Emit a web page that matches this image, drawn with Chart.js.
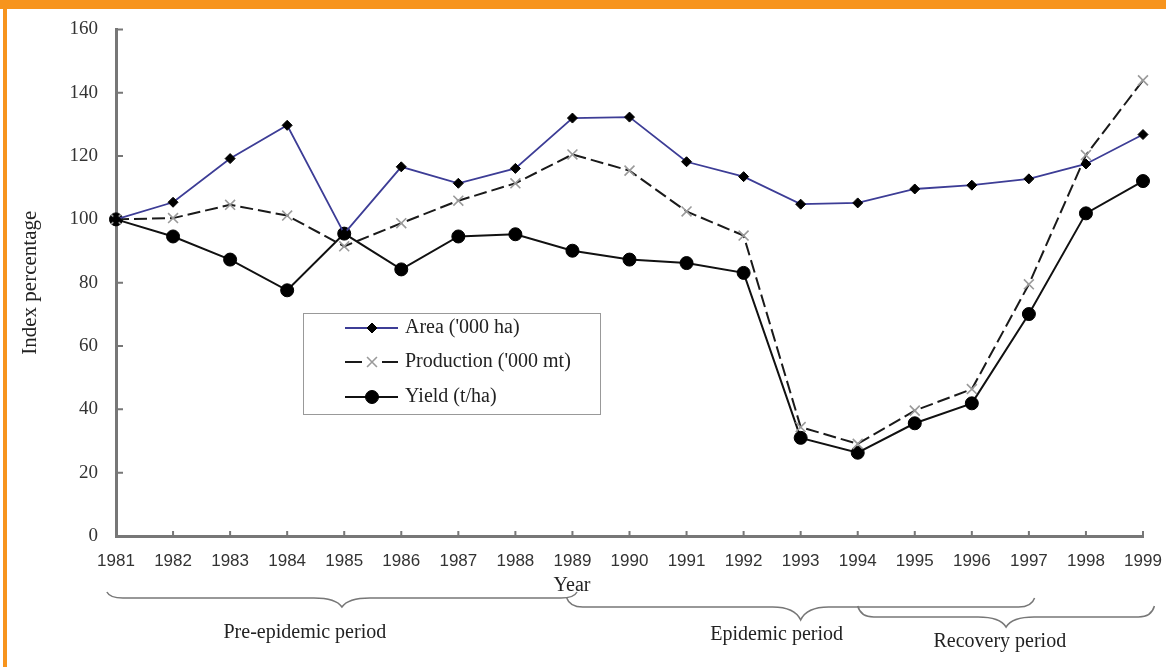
<!DOCTYPE html>
<html>
<head>
<meta charset="utf-8">
<script src="https://cdn.jsdelivr.net/npm/chart.js@4.4.1/dist/chart.umd.min.js"></script>
<style>
  html, body { margin: 0; padding: 0; background: #fff; }
  body { width: 1166px; height: 667px; position: relative; overflow: hidden; }
  #topBar { position: absolute; left: 0; top: 0; width: 1166px; height: 9px; background: #f7941d; }
  #sideBar { position: absolute; left: 3px; top: 0; width: 4px; height: 667px; background: #f7941d; }
  #myCanvas { position: absolute; left: 0; top: 0; }
</style>
</head>
<body>
<div id="topBar"></div>
<div id="sideBar"></div>
<canvas id="myCanvas" width="1166" height="667"></canvas>
<script>
const years = ["1981", "1982", "1983", "1984", "1985", "1986", "1987", "1988", "1989", "1990",
  "1991", "1992", "1993", "1994", "1995", "1996", "1997", "1998", "1999"];
const area = [100, 105.4, 119.2, 129.7, 95.5, 116.6, 111.4, 116.1, 132, 132.3,
  118.2, 113.5, 104.8, 105.2, 109.6, 110.8, 112.8, 117.5, 126.8];
const production = [100, 100.4, 104.6, 101.2, 91.5, 98.8, 105.9, 111.4, 120.5, 115.4,
  102.5, 94.9, 34.4, 29.1, 39.6, 46.4, 79.5, 120.3, 143.9];
const yieldIdx = [100, 94.6, 87.3, 77.6, 95.5, 84.2, 94.6, 95.3, 90.1, 87.3,
  86.2, 83.1, 31.0, 26.3, 35.6, 41.9, 70.1, 101.9, 112.1];
const yTicks = [0, 20, 40, 60, 80, 100, 120, 140, 160];

// periods shown with braces under the x axis (in years)
const periodLabels = ["Pre-epidemic period", "Epidemic period", "Recovery period"];
const periodFrom = [1980.84, 1988.9, 1994.0];
const periodTo = [1989.08, 1997.1, 1999.2];
const periodLabelAt = [1984.31, 1992.58, 1996.49];

const serif = '"Liberation Serif", "Times New Roman", serif';
const sans = '"Liberation Sans", Arial, sans-serif';

const seriesStyle = [
  { label: "Area ('000 ha)", data: area, borderColor: "#3d3d96", borderWidth: 1.8,
    pointStyle: "rectRot", pointRadius: 5, pointBackgroundColor: "#000", pointBorderColor: "#000", pointBorderWidth: 1 },
  { label: "Production ('000 mt)", data: production, borderColor: "#1a1a1a", borderWidth: 2, borderDash: [13, 5],
    pointStyle: "crossRot", pointRadius: 7, pointBackgroundColor: "#999", pointBorderColor: "#9a9a9a", pointBorderWidth: 1.6 },
  { label: "Yield (t/ha)", data: yieldIdx, borderColor: "#111", borderWidth: 2,
    pointStyle: "circle", pointRadius: 6.5, pointBackgroundColor: "#000", pointBorderColor: "#000", pointBorderWidth: 1 }
];

const tickMarks = {
  id: "tickMarks",
  beforeDatasetsDraw(chart) {
    const { ctx, scales: { x, y } } = chart;
    ctx.save();
    ctx.strokeStyle = "#777";
    ctx.lineWidth = 2;
    ctx.beginPath();
    yTicks.forEach(v => {
      const py = y.getPixelForValue(v);
      ctx.moveTo(x.left, py);
      ctx.lineTo(x.left + 7, py);
    });
    years.forEach((yr, i) => {
      const px = x.getPixelForValue(i);
      ctx.moveTo(px, y.bottom);
      ctx.lineTo(px, y.bottom - 5);
    });
    ctx.stroke();
    ctx.restore();
  }
};

const boxLegend = {
  id: "boxLegend",
  afterDraw(chart) {
    const ctx = chart.ctx;
    ctx.save();
    ctx.strokeStyle = "#999";
    ctx.lineWidth = 1;
    ctx.strokeRect(303.5, 313.5, 297, 101);
    const rows = [328, 362, 397];
    ctx.font = "20px " + serif;
    ctx.textBaseline = "middle";
    seriesStyle.forEach((s, i) => {
      const ry = rows[i];
      ctx.strokeStyle = s.borderColor;
      ctx.lineWidth = s.borderWidth;
      ctx.beginPath();
      if (s.borderDash) {
        ctx.moveTo(345, ry); ctx.lineTo(362, ry);
        ctx.moveTo(382, ry); ctx.lineTo(398, ry);
      } else {
        ctx.moveTo(345, ry); ctx.lineTo(398, ry);
      }
      ctx.stroke();
      ctx.fillStyle = s.pointBackgroundColor;
      ctx.strokeStyle = s.pointBorderColor;
      ctx.lineWidth = s.pointBorderWidth;
      Chart.helpers.drawPoint(ctx, {
        pointStyle: s.pointStyle, radius: s.pointRadius, rotation: 0, borderWidth: s.pointBorderWidth
      }, 372, ry);
      ctx.fillStyle = "#222";
      ctx.fillText(s.label, 405, ry);
    });
    ctx.restore();
  }
};

function drawBrace(ctx, x0, x1, yEnd, yLine, yTip) {
  const mid = (x0 + x1) / 2;
  ctx.beginPath();
  ctx.moveTo(x0, yEnd);
  ctx.quadraticCurveTo(x0 + 3, yLine, x0 + 16, yLine);
  ctx.lineTo(mid - 28, yLine);
  ctx.quadraticCurveTo(mid - 6, yLine, mid, yTip);
  ctx.quadraticCurveTo(mid + 6, yLine, mid + 28, yLine);
  ctx.lineTo(x1 - 16, yLine);
  ctx.quadraticCurveTo(x1 - 3, yLine, x1, yEnd);
  ctx.stroke();
}

const braceLayout = [
  { yEnd: 592, yLine: 598, yTip: 607, yText: 633 },
  { yEnd: 598, yLine: 607, yTip: 620, yText: 635 },
  { yEnd: 606, yLine: 617, yTip: 627, yText: 642 }
];

const periodBraces = {
  id: "periodBraces",
  afterDraw(chart) {
    const { ctx, scales: { x } } = chart;
    const toPx = yr => x.getPixelForValue(yr - 1981);
    ctx.save();
    ctx.fillStyle = "#222";
    ctx.textAlign = "center";
    ctx.textBaseline = "middle";
    ctx.font = "20px " + serif;
    ctx.fillText("Year", 572, 586);
    ctx.strokeStyle = "#777";
    ctx.lineWidth = 1.5;
    periodLabels.forEach((lbl, i) => {
      const b = braceLayout[i];
      drawBrace(ctx, toPx(periodFrom[i]), toPx(periodTo[i]), b.yEnd, b.yLine, b.yTip);
      ctx.fillText(lbl, toPx(periodLabelAt[i]), b.yText);
    });
    ctx.restore();
  }
};

const canvas = document.getElementById("myCanvas");
const ctx = canvas.getContext("2d");

new Chart(ctx, {
  type: "line",
  data: {
    labels: years,
    datasets: seriesStyle.map(s => ({ ...s, fill: false, tension: 0 }))
  },
  options: {
    responsive: false,
    animation: false,
    layout: { padding: { top: 27, right: 23, left: 0, bottom: 0 } },
    plugins: { legend: { display: false }, tooltip: { enabled: false } },
    scales: {
      x: {
        type: "category",
        offset: false,
        grid: { drawOnChartArea: false, drawTicks: false },
        border: { color: "#777", width: 3 },
        ticks: { autoSkip: false, maxRotation: 0, padding: 15, color: "#333", font: { family: sans, size: 17 } },
        afterFit(scale) {
          scale.height = 131;
          scale.paddingLeft = 0;
          scale.paddingRight = 0;
        }
      },
      y: {
        min: 0,
        max: 160,
        grid: { drawOnChartArea: false, drawTicks: false },
        border: { color: "#777", width: 3 },
        ticks: { stepSize: 20, padding: 18, color: "#333", font: { family: serif, size: 19 } },
        title: { display: true, text: "Index percentage", color: "#222", font: { family: serif, size: 21 }, padding: { top: 18, bottom: 0 } },
        afterFit(scale) { scale.width = 116; }
      }
    }
  },
  plugins: [tickMarks, boxLegend, periodBraces]
});
</script>
</body>
</html>
